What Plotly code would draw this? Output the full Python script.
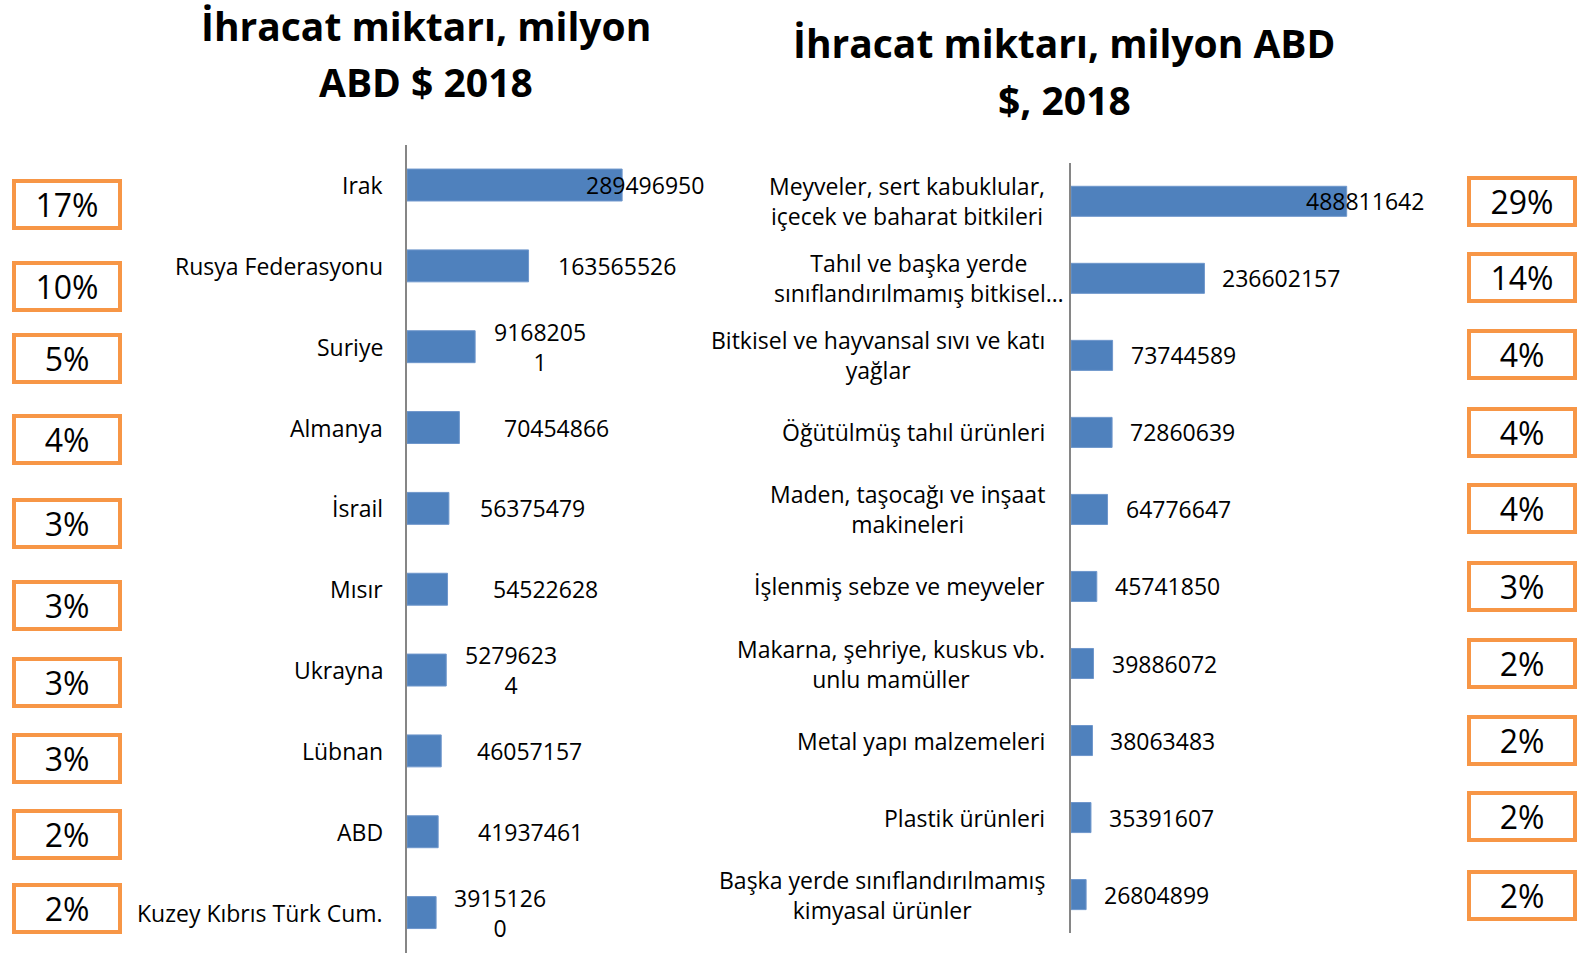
import plotly.graph_objects as go

# ---------------- data ----------------
countries = ["Irak", "Rusya Federasyonu", "Suriye", "Almanya", "İsrail", "Mısır",
             "Ukrayna", "Lübnan", "ABD", "Kuzey Kıbrıs Türk Cum."]
country_values = [289496950, 163565526, 91682051, 70454866, 56375479, 54522628,
                  52796234, 46057157, 41937461, 39151260]
country_shares = ["17%", "10%", "5%", "4%", "3%", "3%", "3%", "3%", "2%", "2%"]

products = ["Meyveler, sert kabuklular,\niçecek ve baharat bitkileri",
            "Tahıl ve başka yerde\nsınıflandırılmamış bitkisel…",
            "Bitkisel ve hayvansal sıvı ve katı\nyağlar",
            "Öğütülmüş tahıl ürünleri",
            "Maden, taşocağı ve inşaat\nmakineleri",
            "İşlenmiş sebze ve meyveler",
            "Makarna, şehriye, kuskus vb.\nunlu mamüller",
            "Metal yapı malzemeleri",
            "Plastik ürünleri",
            "Başka yerde sınıflandırılmamış\nkimyasal ürünler"]
product_values = [488811642, 236602157, 73744589, 72860639, 64776647, 45741850,
                  39886072, 38063483, 35391607, 26804899]
product_shares = ["29%", "14%", "4%", "4%", "4%", "3%", "2%", "2%", "2%", "2%"]

title_left = ["İhracat miktarı, milyon", "ABD $ 2018"]
title_right = ["İhracat miktarı, milyon ABD", "$, 2018"]

# ---------------- style ----------------
W, H = 1578, 953
FONT = "Open Sans, Liberation Sans, sans-serif"
BAR = "#4F81BD"
ORANGE = "#F79646"
AXIS = "#868686"

# label placement tweaks (pixels)
left_label_dx = [-38, 27, 17, 43, 29, 43, 17, 34, 38, 16]
left_label_wrap = [False, False, True, False, False, False, True, False, False, True]
right_label_dx = [-43, 16, 16, 16, 16, 16, 16, 16, 16, 16]
left_box_dy = [19, 21, 12, 12, 15, 16, 12, 8, 3, -4]
right_box_dy = [0, -1, -1, 0, -1, 0, 0, 0, -1, 1]
right_cat_dx = [0, 19, 0, 0, 0, 0, 0, 0, 0, 0]


def px(x):
    return x / W


def py(y):
    return 1 - y / H


def fmt(v, wrap):
    s = str(v)
    return s[:7] + "<br>" + s[7:] if wrap else s


fig = go.Figure()
fig.add_trace(go.Bar(y=countries, x=country_values, orientation="h",
                     marker=dict(color=BAR, line=dict(color="#6F97CC", width=1)),
                     xaxis="x", yaxis="y", hoverinfo="x+y"))
fig.add_trace(go.Bar(y=products, x=product_values, orientation="h",
                     marker=dict(color=BAR, line=dict(color="#6F97CC", width=1)),
                     xaxis="x2", yaxis="y2", hoverinfo="x"))

ann = []
# titles
for t, yy in zip(title_left, [26, 82]):
    ann.append(dict(text="<b>" + t + "</b>", xref="paper", yref="paper", x=px(426), y=py(yy),
                    xanchor="center", yanchor="middle", showarrow=False,
                    font=dict(family=FONT, size=39, color="#000")))
for t, yy in zip(title_right, [42, 99]):
    ann.append(dict(text="<b>" + t + "</b>", xref="paper", yref="paper", x=px(1064), y=py(yy),
                    xanchor="center", yanchor="middle", showarrow=False,
                    font=dict(family=FONT, size=39, color="#000")))

# left chart labels
for i, (c, v) in enumerate(zip(countries, country_values)):
    ann.append(dict(text=c, xref="x domain", yref="y", x=0, y=c, xshift=-22,
                    xanchor="right", yanchor="middle", showarrow=False,
                    font=dict(family=FONT, size=23, color="#000")))
    ann.append(dict(text=fmt(v, left_label_wrap[i]), xref="x", yref="y", x=v, y=c,
                    xshift=left_label_dx[i], xanchor="left", yanchor="middle",
                    align="center", showarrow=False,
                    font=dict(family=FONT, size=23, color="#000")))
    ann.append(dict(text=country_shares[i], xref="paper", yref="y", x=px(66.5), y=c,
                    yshift=-left_box_dy[i], xanchor="center", yanchor="middle",
                    showarrow=False, width=102, height=43, borderwidth=4, borderpad=0,
                    bordercolor=ORANGE, bgcolor="white",
                    font=dict(family=FONT, size=32, color="#000")))

# right chart labels
for i, (c, v) in enumerate(zip(products, product_values)):
    ann.append(dict(text=c.replace("\n", "<br>"), xref="x2 domain", yref="y2", x=0, y=c,
                    xshift=-24 + right_cat_dx[i], xanchor="right", yanchor="middle",
                    align="center", showarrow=False,
                    font=dict(family=FONT, size=23, color="#000")))
    ann.append(dict(text=fmt(v, False), xref="x2", yref="y2", x=v, y=c,
                    xshift=right_label_dx[i], xanchor="left", yanchor="middle",
                    showarrow=False, font=dict(family=FONT, size=23, color="#000")))
    ann.append(dict(text=product_shares[i], xref="paper", yref="y2", x=px(1521.5), y=c,
                    yshift=-right_box_dy[i], xanchor="center", yanchor="middle",
                    showarrow=False, width=102, height=43, borderwidth=4, borderpad=0,
                    bordercolor=ORANGE, bgcolor="white",
                    font=dict(family=FONT, size=32, color="#000")))

n_left = len(countries)
n_right = len(products)
fig.update_layout(
    width=W, height=H,
    margin=dict(l=0, r=0, t=0, b=0),
    paper_bgcolor="white", plot_bgcolor="white",
    showlegend=False, bargap=0.605,
    font=dict(family=FONT, color="#000"),
    xaxis=dict(domain=[px(407), px(760)], range=[0, 475e6], visible=False,
               anchor="y"),
    yaxis=dict(domain=[py(953), py(144.6)], range=[n_left - 0.5, -0.5], type="category",
               showticklabels=False, showline=True, linecolor=AXIS, linewidth=2,
               ticks="", showgrid=False, zeroline=False, anchor="x"),
    xaxis2=dict(domain=[px(1071), px(1450)], range=[0, 672e6], visible=False,
                anchor="y2"),
    yaxis2=dict(domain=[py(933.1), py(162.8)], range=[n_right - 0.5, -0.5], type="category",
                showticklabels=False, showline=True, linecolor=AXIS, linewidth=2,
                ticks="", showgrid=False, zeroline=False, anchor="x2"),
    annotations=ann,
)
fig.update_traces(selector=dict(xaxis="x2"), width=0.39)

fig.write_html("out.html", config={"displayModeBar": False},
               post_script="document.body.style.margin='0';"
                           "document.body.style.overflow='hidden';")
